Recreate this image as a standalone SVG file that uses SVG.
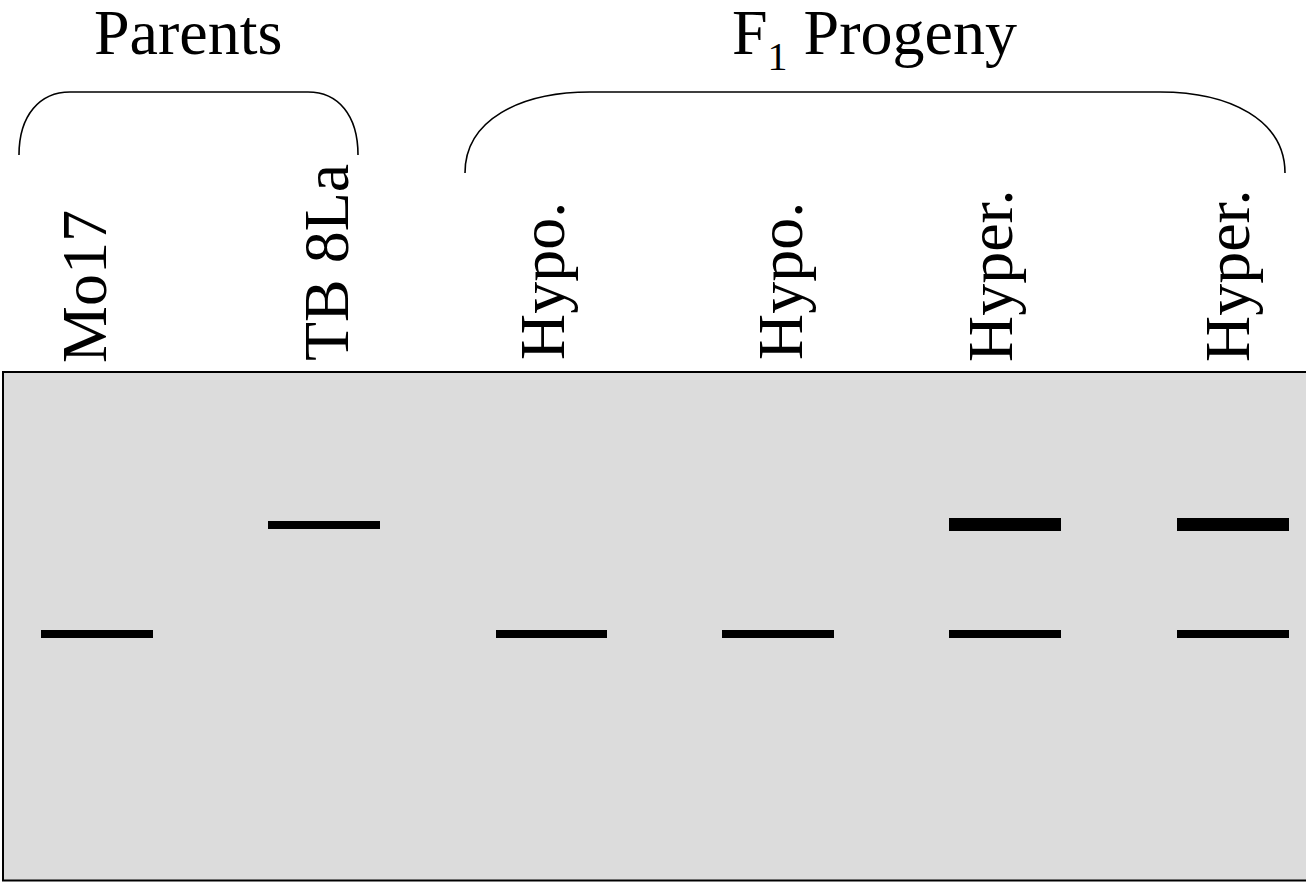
<svg xmlns="http://www.w3.org/2000/svg" width="1306" height="882" viewBox="0 0 1306 882">
<style>
text{font-family:"Liberation Serif","Times New Roman",serif;font-size:64px;fill:#000}
.br{fill:none;stroke:#000;stroke-width:1.6}
.band{fill:#000}
</style>
<rect width="1306" height="882" fill="#fff"/>
<g id="gel">
<rect x="3" y="372" width="1310" height="508.5" fill="#dcdcdc" stroke="#000" stroke-width="2"/>
</g>
<g id="headers">
<text x="94" y="54">Parents</text>
<text x="732" y="54">F<tspan font-size="40" dy="16">1</tspan><tspan dy="-16"> Progeny</tspan></text>
</g>
<g id="connectors">
<path class="br" d="M19,155 C19,115 40,92 70,92 L308,92 C338,92 358,115 358,155"/>
<path class="br" d="M465,173 C465,120 520,92 590,92 L1160,92 C1230,92 1285,120 1285,173"/>
</g>
<g id="lane-mo17">
<text x="106" y="363" transform="rotate(-90 106 363)">Mo17</text>
<rect class="band" x="41" y="630" width="112" height="8"/>
</g>
<g id="lane-tb8la">
<text x="348" y="361" transform="rotate(-90 348 361)">TB 8La</text>
<rect class="band" x="268" y="521" width="112" height="8"/>
</g>
<g id="lane-hypo1">
<text x="564" y="360" transform="rotate(-90 564 360)">Hypo.</text>
<rect class="band" x="496" y="630" width="111" height="8"/>
</g>
<g id="lane-hypo2">
<text x="802" y="360" transform="rotate(-90 802 360)">Hypo.</text>
<rect class="band" x="722" y="630" width="112" height="8"/>
</g>
<g id="lane-hyper1">
<text x="1012" y="362" transform="rotate(-90 1012 362)">Hyper.</text>
<rect class="band" x="949" y="518" width="112" height="13"/>
<rect class="band" x="949" y="630" width="112" height="8"/>
</g>
<g id="lane-hyper2">
<text x="1249" y="362" transform="rotate(-90 1249 362)">Hyper.</text>
<rect class="band" x="1177" y="518" width="112" height="13"/>
<rect class="band" x="1177" y="630" width="112" height="8"/>
</g>
</svg>
